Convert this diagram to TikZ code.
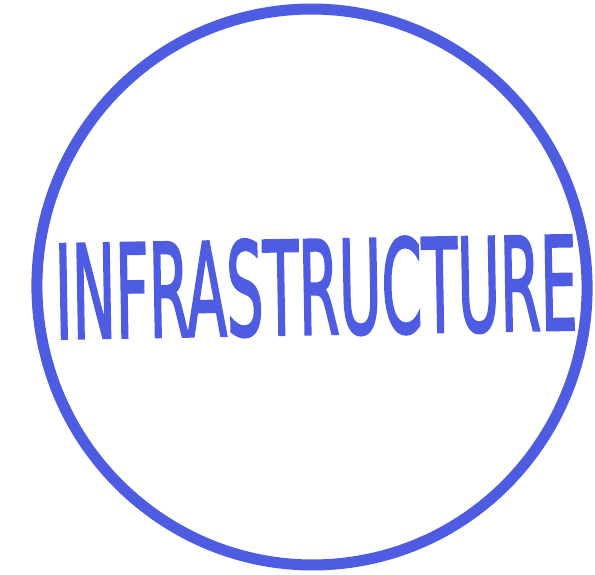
\documentclass[tikz,border=0pt]{standalone}
\usepackage{fontspec}
\newfontfamily\penfont{DejaVu Sans Condensed}[FakeBold=2.2]
\usepackage{tikz}
\usetikzlibrary{calc,positioning}
\definecolor{penblue}{RGB}{78,92,226}

\begin{document}
\begin{tikzpicture}[x=1pt,y=1pt]
        \tikzstyle{pen}=[draw=penblue,line width=11pt,line cap=round,line join=round]
        \tikzstyle{every node}=[text=penblue,inner sep=0pt,font=\penfont]

   \useasboundingbox (0,0) rectangle (595,575);
   \coordinate (C) at (312,288);

   % the hand drawn ring
   \draw[pen,rotate around={8:(C)}] (C) ellipse [x radius=275,y radius=278];

   \node[rotate=1] (word) at (316,288) {\resizebox{522pt}{96pt}{INFRASTRUCTURE}};
 \end{tikzpicture}
\end{document}
